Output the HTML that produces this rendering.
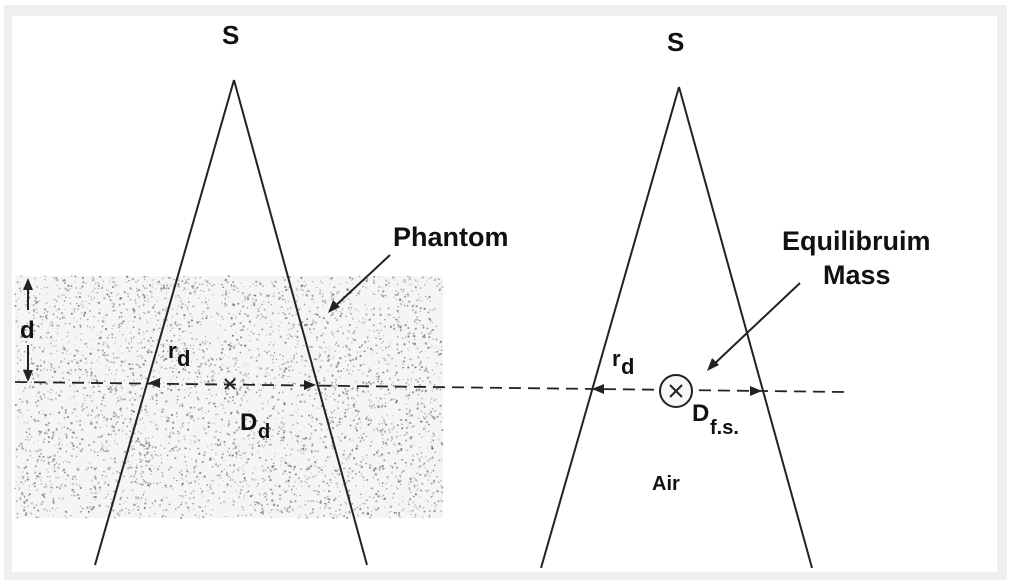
<!DOCTYPE html>
<html><head><meta charset="utf-8"><style>
html,body{margin:0;padding:0;background:#fff;width:1011px;height:585px;overflow:hidden}
svg{display:block}
text{font-family:"Liberation Sans",sans-serif;font-weight:bold;fill:#111}
</style></head><body>
<svg id="s" width="1011" height="585" viewBox="0 0 1011 585">
<rect x="4" y="5" width="1003" height="575" fill="#efefef"/>
<rect x="12" y="16" width="985" height="556" fill="#fff"/>
<rect x="15" y="276" width="428" height="242" fill="#f5f5f5"/>
<g id="dots" fill="#555"></g>
<g stroke="#222" stroke-width="2" fill="none">
<line x1="234" y1="80" x2="95" y2="565"/>
<line x1="234" y1="80" x2="367" y2="565"/>
<line x1="679" y1="87" x2="541" y2="568"/>
<line x1="679" y1="87" x2="812" y2="568"/>
<line x1="15" y1="382" x2="845" y2="392" stroke-dasharray="12,7" stroke-width="1.8"/>
<line x1="28" y1="285" x2="28" y2="310"/>
<line x1="28" y1="345" x2="28" y2="378"/>
<line x1="390" y1="255" x2="332" y2="309"/>
<line x1="800" y1="283" x2="711" y2="367"/>
<line x1="225" y1="379" x2="235" y2="389"/><line x1="235" y1="379" x2="225" y2="389"/>
<circle cx="676" cy="391" r="16" fill="#f7f7f7"/>
<line x1="670" y1="385" x2="682" y2="397"/><line x1="682" y1="385" x2="670" y2="397"/>
</g>
<g fill="#222">
<polygon points="28,278 23,290 33,290"/>
<polygon points="28,382 23,370 33,370"/>
<polygon points="328,313 333,300 340,307"/>
<polygon points="707,371 712,358 719,365"/>
<polygon points="148,383 160,378 160,388"/>
<polygon points="316,385 304,380 304,390"/>
<polygon points="592,389 604,384 604,394"/>
<polygon points="762,391 750,386 750,396"/>
</g>
<text x="222" y="44" font-size="26">S</text>
<text x="667" y="51" font-size="26">S</text>
<text x="393" y="246" font-size="27">Phantom</text>
<text x="782" y="250" font-size="27">Equilibruim</text>
<text x="823" y="284" font-size="27">Mass</text>
<text x="20" y="338" font-size="24">d</text>
<text x="168" y="358" font-size="22">r</text><text x="177" y="366" font-size="22">d</text>
<text x="240" y="430" font-size="24">D</text><text x="258" y="438" font-size="20">d</text>
<text x="612" y="366" font-size="22">r</text><text x="621" y="374" font-size="22">d</text>
<text x="692" y="421" font-size="24">D</text><text x="710" y="434" font-size="20">f.s.</text>
<text x="652" y="490" font-size="20">Air</text>
</svg>
<script>
var g=document.getElementById('dots'),s=12345;function r(){s=(s*16807)%2147483647;return s/2147483647;}
var h='';for(var i=0;i<4200;i++){var x=15+r()*428,y=276+r()*242;h+='<circle cx="'+x.toFixed(1)+'" cy="'+y.toFixed(1)+'" r="'+(0.5+r()*0.7).toFixed(2)+'" opacity="'+(0.2+r()*0.5).toFixed(2)+'"/>';}
g.innerHTML=h;
</script>
</body></html>
